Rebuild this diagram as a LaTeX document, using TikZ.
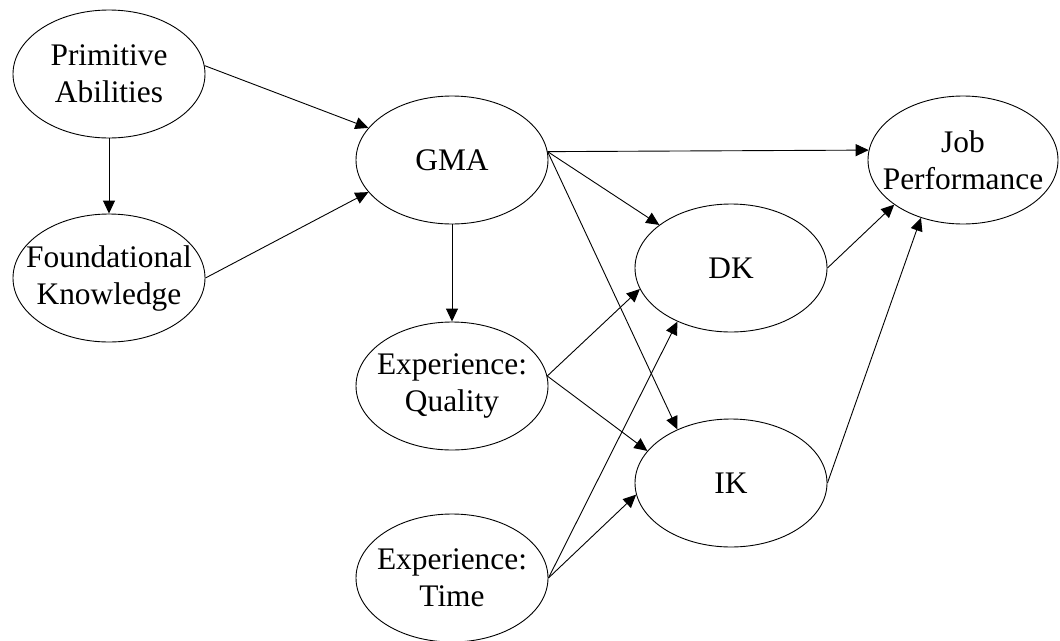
\documentclass[tikz,border=0pt]{standalone}
\usepackage{fontspec}
\setmainfont{Liberation Serif}
\usetikzlibrary{shapes.geometric,arrows.meta}
\begin{document}
\begin{tikzpicture}[x=1pt,y=-1pt,
  oval/.style={ellipse,draw,line width=0.9pt,minimum width=192pt,minimum height=128pt,inner xsep=-40pt,inner ysep=-20pt,align=center,
    font=\fontsize{31.4}{37}\selectfont},
  conn/.style={line width=0.9pt,-{Triangle[length=13pt,width=12pt]}}]
\fill[white] (0,0) rectangle (1060,640);
\useasboundingbox (0,0) rectangle (1060,640);
\node[oval] (pa) at (109,74) {Primitive\\Abilities};
\node[oval] (fk) at (109,278) {Foundational\\Knowledge};
\node[oval] (gma) at (452,160) {GMA};
\node[oval] (eq) at (452,386) {Experience:\\Quality};
\node[oval] (et) at (452,578) {Experience:\\Time};
\node[oval] (dk) at (731,268) {DK};
\node[oval] (ik) at (731,483) {IK};
\node[oval,minimum width=190pt] (jp) at (963,160) {Job\\Performance};
\draw[conn] (pa.5) -- (gma.159);
\draw[conn] (fk.east) -- (gma.201);
\draw[conn] (pa.south) -- (fk.north);
\draw[conn] (gma.south) -- (eq.north);
\draw[conn] (gma.5) -- (jp.174);
\draw[conn] (gma.5) -- (dk.149);
\draw[conn] (gma.5) -- (ik.135);
\draw[conn] (eq.6) -- (dk.193);
\draw[conn] (eq.6) -- (ik.159);
\draw[conn] (et.east) -- (ik.187);
\draw[conn] (et.east) -- (dk.225);
\draw[conn] (dk.east) -- (jp.213);
\draw[conn] (ik.east) -- (jp.234);
\end{tikzpicture}
\end{document}
